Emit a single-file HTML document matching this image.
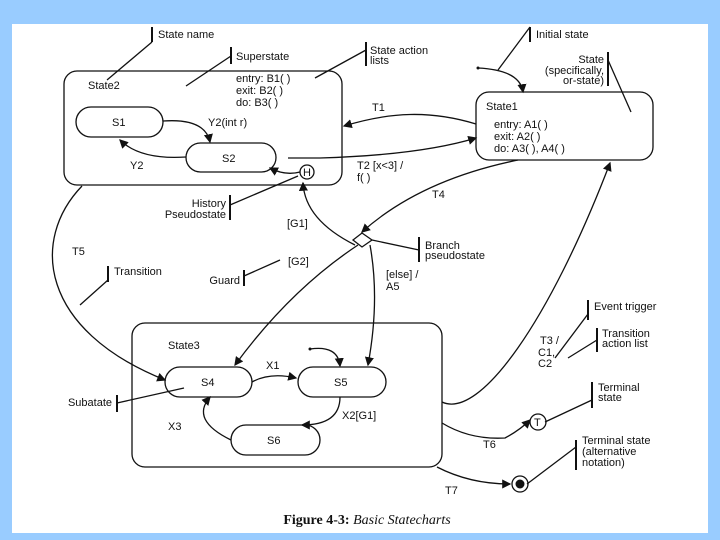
<!DOCTYPE html>
<html><head><style>
html,body{margin:0;padding:0;background:#99ccff;}
svg{display:block;}
text{font-family:"Liberation Sans",sans-serif;font-size:11px;fill:#111;}
</style></head><body>
<svg width="720" height="540" viewBox="0 0 720 540" xmlns="http://www.w3.org/2000/svg">
<defs><marker id="a" markerWidth="7" markerHeight="7" refX="6" refY="3.5" orient="auto"><path d="M0,0 L7,3.5 L0,7 z" fill="#111"/></marker></defs>
<rect x="0" y="0" width="720" height="540" fill="#99ccff"/>
<rect x="12" y="24" width="696" height="509" fill="#fff"/>
<g fill="none" stroke="#111" stroke-width="1.3">
<rect x="64" y="71" width="278" height="114" rx="13"/>
<rect x="76" y="107" width="87" height="30" rx="15"/>
<rect x="186" y="143" width="90" height="29" rx="14.5"/>
<circle cx="307" cy="172" r="7"/>
<rect x="476" y="92" width="177" height="68" rx="13"/>
<rect x="132" y="323" width="310" height="144" rx="13"/>
<rect x="165" y="367" width="87" height="30" rx="15"/>
<rect x="298" y="367" width="88" height="30" rx="15"/>
<rect x="231" y="425" width="89" height="30" rx="15"/>
<circle cx="538" cy="422" r="8"/>
<circle cx="520" cy="484" r="8"/>
<path d="M353,240 L362,233 L372,240 L362,247 z"/>
<path d="M163,121 Q205,118 210,142" marker-end="url(#a)"/>
<path d="M186,157 Q140,160 120,140" marker-end="url(#a)"/>
<path d="M300,172 Q285,176 270,168" marker-end="url(#a)"/>
<path d="M476,124 C430,110 390,112 344,126" marker-end="url(#a)"/>
<path d="M288,158 L320,158 Q420,155 476,138" marker-end="url(#a)"/>
<path d="M518,160 Q420,180 362,232" marker-end="url(#a)"/>
<path d="M355,245 Q305,220 303,183" marker-end="url(#a)"/>
<path d="M358,245 Q290,290 235,365" marker-end="url(#a)"/>
<path d="M370,245 Q380,300 368,365" marker-end="url(#a)"/>
<path d="M82,186 C30,240 40,330 165,380" marker-end="url(#a)"/>
<path d="M442,402 C480,420 550,320 610,163" marker-end="url(#a)"/>
<path d="M478,68 Q520,70 523,92" marker-end="url(#a)"/>
<path d="M310,349 Q338,345 340,366" marker-end="url(#a)"/>
<path d="M252,382 Q270,372 296,378" marker-end="url(#a)"/>
<path d="M340,397 Q340,425 302,425" marker-end="url(#a)"/>
<path d="M231,440 Q190,420 210,397" marker-end="url(#a)"/>
<path d="M442,423 Q470,440 505,438 Q520,430 530,420" marker-end="url(#a)"/>
<path d="M437,467 Q470,484 510,484" marker-end="url(#a)"/>
<path d="M152,42 L107,80"/><path d="M152,27 L152,42" stroke-width="2"/>
<path d="M231,56 L186,86"/><path d="M231,47 L231,64" stroke-width="2"/>
<path d="M366,50 L315,78"/><path d="M366,42 L366,66" stroke-width="2"/>
<path d="M530,27 L498,70"/><path d="M530,27 L530,42" stroke-width="2"/>
<path d="M608,60 L631,112"/><path d="M608,52 L608,86" stroke-width="2"/>
<path d="M230,205 L298,176"/><path d="M230,195 L230,220" stroke-width="2"/>
<path d="M419,250 L372,240"/><path d="M419,237 L419,262" stroke-width="2"/>
<path d="M108,280 L80,305"/><path d="M108,266 L108,282" stroke-width="2"/>
<path d="M244,276 L280,260"/><path d="M244,270 L244,286" stroke-width="2"/>
<path d="M588,314 L555,358"/><path d="M588,300 L588,320" stroke-width="2"/>
<path d="M597,340 L568,358"/><path d="M597,328 L597,352" stroke-width="2"/>
<path d="M117,403 L184,388"/><path d="M117,395 L117,412" stroke-width="2"/>
<path d="M592,400 L545,422"/><path d="M592,382 L592,408" stroke-width="2"/>
<path d="M576,447 L527,484"/><path d="M576,440 L576,470" stroke-width="2"/>
</g>
<circle cx="520" cy="484" r="4.5" fill="#111"/>
<circle cx="478" cy="68" r="1.5" fill="#111"/>
<circle cx="310" cy="349" r="1.5" fill="#111"/>
<text x="158" y="38">State name</text>
<text x="236" y="60">Superstate</text>
<text x="370" y="54">State action</text><text x="370" y="64">lists</text>
<text x="536" y="38">Initial state</text>
<text x="604" y="63" text-anchor="end">State</text>
<text x="604" y="74" text-anchor="end">(specifically,</text>
<text x="604" y="84" text-anchor="end">or-state)</text>
<text x="88" y="89">State2</text>
<text x="236" y="82">entry: B1( )</text>
<text x="236" y="94">exit: B2( )</text>
<text x="236" y="106">do: B3( )</text>
<text x="112" y="126">S1</text>
<text x="208" y="126">Y2(int r)</text>
<text x="222" y="162">S2</text>
<text x="130" y="169">Y2</text>
<text x="303" y="176" font-size="10">H</text>
<text x="372" y="111">T1</text>
<text x="486" y="110">State1</text>
<text x="494" y="128">entry: A1( )</text>
<text x="494" y="140">exit: A2( )</text>
<text x="494" y="152">do: A3( ), A4( )</text>
<text x="357" y="169">T2 [x&lt;3] /</text>
<text x="357" y="181">f( )</text>
<text x="432" y="198">T4</text>
<text x="226" y="207" text-anchor="end">History</text>
<text x="226" y="218" text-anchor="end">Pseudostate</text>
<text x="287" y="227">[G1]</text>
<text x="425" y="249">Branch</text>
<text x="425" y="259">pseudostate</text>
<text x="72" y="255">T5</text>
<text x="288" y="265">[G2]</text>
<text x="114" y="275">Transition</text>
<text x="240" y="284" text-anchor="end">Guard</text>
<text x="386" y="278">[else] /</text>
<text x="386" y="290">A5</text>
<text x="594" y="310">Event trigger</text>
<text x="540" y="344">T3 /</text>
<text x="538" y="356">C1,</text>
<text x="538" y="367">C2</text>
<text x="602" y="337">Transition</text>
<text x="602" y="347">action list</text>
<text x="168" y="349">State3</text>
<text x="266" y="369">X1</text>
<text x="201" y="386">S4</text>
<text x="334" y="386">S5</text>
<text x="112" y="406" text-anchor="end">Subatate</text>
<text x="342" y="419">X2[G1]</text>
<text x="168" y="430">X3</text>
<text x="267" y="444">S6</text>
<text x="598" y="391">Terminal</text>
<text x="598" y="401">state</text>
<text x="534" y="426" font-size="10">T</text>
<text x="483" y="448">T6</text>
<text x="582" y="444">Terminal state</text>
<text x="582" y="455">(alternative</text>
<text x="582" y="466">notation)</text>
<text x="445" y="494">T7</text>
<text x="367" y="524" text-anchor="middle" style="font-family:'Liberation Serif',serif;font-size:14px"><tspan font-weight="bold">Figure 4-3:</tspan> <tspan font-style="italic">Basic Statecharts</tspan></text>
</svg>
</body></html>
